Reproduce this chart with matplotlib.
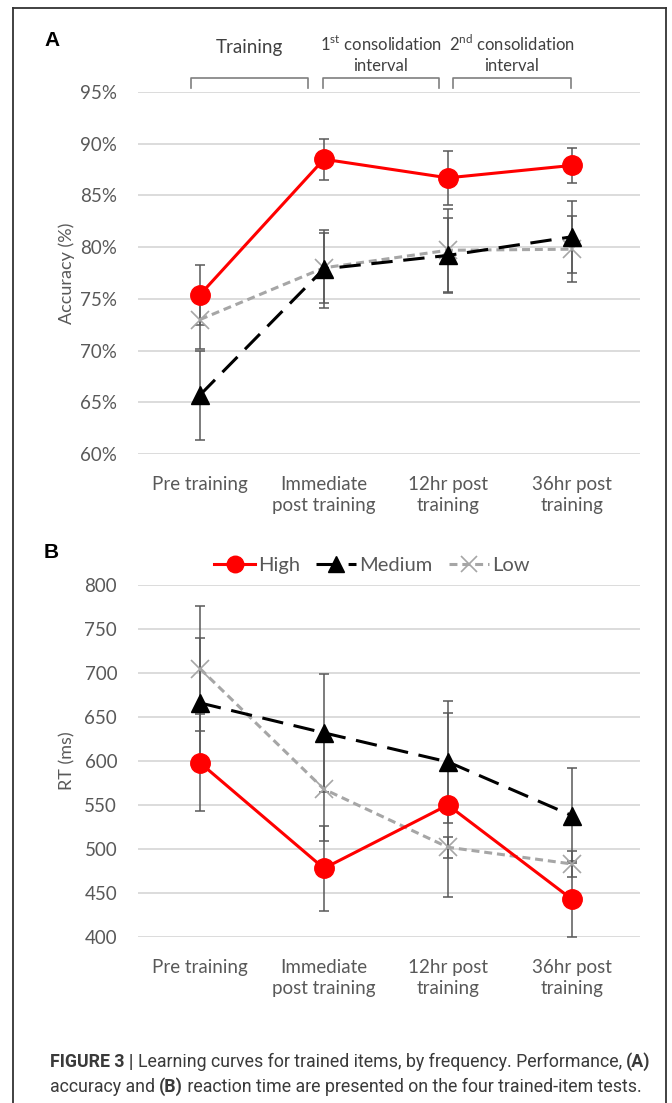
import matplotlib
matplotlib.use("Agg")
import matplotlib.pyplot as plt
from matplotlib.lines import Line2D
import matplotlib.transforms as mtransforms

plt.rcParams['font.family'] = ['Lato', 'DejaVu Sans']

# ---------------- data ----------------
categories = ["Pre training", "Immediate\npost training", "12hr post\ntraining", "36hr post\ntraining"]

acc_high = [75.4, 88.5, 86.7, 87.9]
acc_high_err = [2.9, 2.0, 2.6, 1.7]
acc_medium = [65.7, 77.9, 79.2, 81.0]
acc_medium_err = [4.3, 3.8, 3.6, 3.5]
acc_low = [73.0, 78.0, 79.7, 79.8]
acc_low_err = [2.8, 3.4, 4.0, 3.2]

rt_high = [598, 478, 550, 443]
rt_high_err = [55, 48, 105, 43]
rt_medium = [666, 632, 599, 538]
rt_medium_err = [74, 67, 69, 54]
rt_low = [705, 568, 502, 483]
rt_low_err = [71, 59, 12, 15]

acc_ticks = [60, 65, 70, 75, 80, 85, 90, 95]
rt_ticks = [400, 450, 500, 550, 600, 650, 700, 750, 800]

interval_labels = ["Training", "1$^{\\mathrm{st}}$ consolidation\ninterval",
                   "2$^{\\mathrm{nd}}$ consolidation\ninterval"]

plt.rcParams['mathtext.fontset'] = 'custom'
plt.rcParams['mathtext.rm'] = 'Lato'

W, H = 672, 1103
fig = plt.figure(figsize=(W / 100, H / 100), dpi=100)

TXT = "#595959"
GRID = "#d9d9d9"
ERR = "#595959"

def px_axes(l, r, t, b):
    return fig.add_axes([l / W, 1 - b / H, (r - l) / W, (b - t) / H])

axA = px_axes(138, 640, 92, 454)
axB = px_axes(138, 640, 585, 937)

styles = [
    dict(color="#ff0000", ls="-", marker="o", ms=14, lw=2.2, mec="#ff0000", mfc="#ff0000", mew=1),
    dict(color="#000000", ls=(0, (7, 3.5)), marker="^", ms=13, lw=2.2, mec="#000000", mfc="#000000", mew=1),
    dict(color="#a6a6a6", ls=(0, (2.6, 1.6)), marker="x", ms=13, lw=2.2, mec="#a6a6a6", mew=1.2),
]
names = ["High", "Medium", "Low"]

x = list(range(len(categories)))

def draw(ax, series, errs):
    for vals, err in zip(series, errs):
        ax.errorbar(x, vals, yerr=err, fmt="none", ecolor=ERR, elinewidth=1.1,
                    capsize=3.5, capthick=1.1, zorder=2)
    handles = []
    for vals, st, nm in zip(series[::-1], styles[::-1], names[::-1]):
        h, = ax.plot(x, vals, zorder=3, label=nm, **st)
        handles.append(h)
    return handles[::-1]

def style(ax, ticks, fmt, ylabel):
    ax.set_xlim(-0.5, 3.55)
    ax.set_ylim(ticks[0], ticks[-1])
    ax.set_yticks(ticks)
    ax.set_yticklabels([fmt(t) for t in ticks], fontsize=13.5, color=TXT)
    ax.set_xticks(x)
    ax.set_xticklabels(categories, fontsize=13.5, color=TXT, linespacing=1.25)
    ax.tick_params(axis="both", length=0)
    ax.tick_params(axis="y", pad=15)
    ax.tick_params(axis="x", pad=16)
    for s in ax.spines.values():
        s.set_visible(False)
    ax.grid(axis="y", color=GRID, lw=1.3)
    ax.set_axisbelow(True)
    ax.set_ylabel(ylabel, fontsize=13, color=TXT, labelpad=2)
    ax.yaxis.set_label_coords(-0.125, 0.5)

draw(axA, [acc_high, acc_medium, acc_low], [acc_high_err, acc_medium_err, acc_low_err])
style(axA, acc_ticks, lambda t: f"{t}%", "Accuracy (%)")

hB = draw(axB, [rt_high, rt_medium, rt_low], [rt_high_err, rt_medium_err, rt_low_err])
style(axB, rt_ticks, lambda t: f"{t}", "RT (ms)")

leg = axB.legend(handles=hB, loc="lower center", bbox_to_anchor=(0.466, 1.0), ncol=3,
                 frameon=False, fontsize=14.5, handlelength=2.0, handletextpad=0.15,
                 columnspacing=0.8, borderaxespad=0.15, markerscale=0.85)
for t in leg.get_texts():
    t.set_color(TXT)

# brackets over panel A
bracket_spans = [(-0.07, 0.87), (0.99, 1.93), (2.04, 2.99)]
trans = mtransforms.blended_transform_factory(axA.transData, axA.transAxes)
yb_top = 1 + 14 / 362
yb_bot = 1 + 4 / 362
for (a, b), lab in zip(bracket_spans, interval_labels):
    axA.plot([a, a, b, b], [yb_bot, yb_top, yb_top, yb_bot], transform=trans,
             color="#7f7f7f", lw=1.2, clip_on=False)
    if "\n" in lab:
        axA.text((a + b) / 2, 1 + 18 / 362, lab, transform=trans, ha="center", va="bottom",
                 fontsize=12, color="#404040", linespacing=1.3)
    else:
        axA.text((a + b) / 2, 1 + 36 / 362, lab, transform=trans, ha="center", va="bottom",
                 fontsize=13.5, color="#404040")

# panel letters
fig.text(44 / W, 1 - 40 / H, "A", fontsize=15, fontweight="bold", family="Liberation Sans",
         va="center", ha="left", color="black")
fig.text(44 / W, 1 - 552 / H, "B", fontsize=15, fontweight="bold", family="Liberation Sans",
         va="center", ha="left", color="black")

# border
bc = "#333333"
fig.add_artist(Line2D([13 / W, 13 / W], [0, 1 - 8 / H], color=bc, lw=1.3))
fig.add_artist(Line2D([13 / W, 666 / W], [1 - 8 / H, 1 - 8 / H], color=bc, lw=1.3))
fig.add_artist(Line2D([666 / W, 666 / W], [0, 1 - 8 / H], color=bc, lw=1.3))

# caption
fig.canvas.draw()
renderer = fig.canvas.get_renderer()

def rich_line(x0_px, y_px, pieces, size=12.8):
    xp = x0_px
    for txt, bold in pieces:
        t = fig.text(xp / W, 1 - y_px / H, txt, fontsize=size, family="Roboto",
                     fontweight="bold" if bold else "normal", color="#3a3a3a",
                     va="baseline", ha="left")
        bb = t.get_window_extent(renderer=renderer)
        xp += bb.width

rich_line(50, 1067, [("FIGURE 3 | ", True),
                     ("Learning curves for trained items, by frequency. Performance, ", False),
                     ("(A)", True)])
rich_line(50, 1092, [("accuracy and ", False), ("(B)", True),
                     (" reaction time are presented on the four trained-item tests.", False)])

fig.savefig("out.png", dpi=100)
